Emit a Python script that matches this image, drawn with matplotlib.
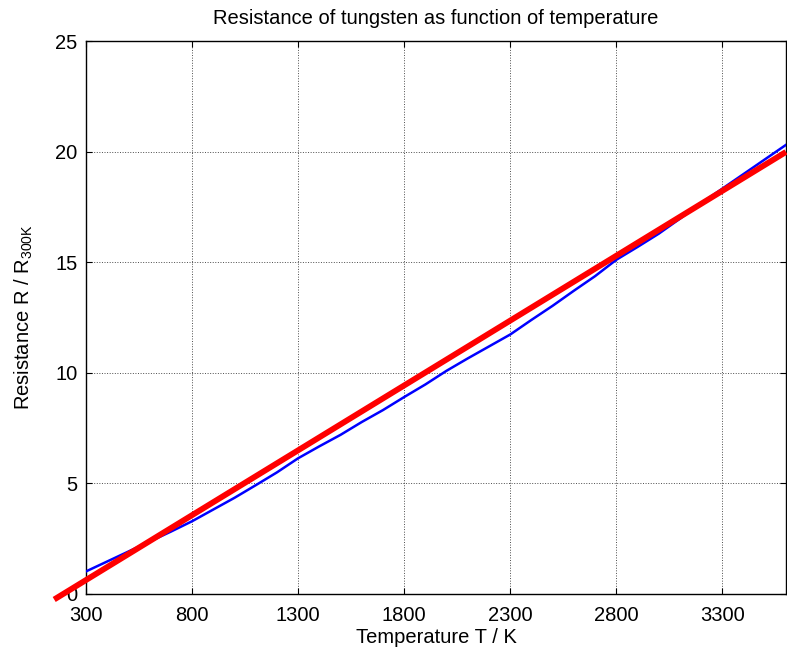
import numpy as np
import matplotlib
matplotlib.use('Agg')
import matplotlib.pyplot as plt

plt.rcParams['font.family'] = ['Liberation Sans', 'DejaVu Sans']
plt.rcParams['mathtext.fontset'] = 'custom'
plt.rcParams['mathtext.rm'] = 'Liberation Sans'

# measured resistance ratio of tungsten
T = [300, 400, 500, 600, 700, 800, 900, 1000, 1100, 1200, 1300, 1400, 1500,
     1600, 1700, 1800, 1900, 2000, 2100, 2200, 2300, 2400, 2500, 2600, 2700,
     2800, 2900, 3000, 3100, 3200, 3300, 3400, 3500, 3600]
R = [1.00, 1.45, 1.90, 2.35, 2.80, 3.27, 3.80, 4.33, 4.90, 5.48, 6.12, 6.66,
     7.18, 7.76, 8.30, 8.89, 9.46, 10.08, 10.64, 11.18, 11.72, 12.38, 13.02,
     13.70, 14.36, 15.10, 15.68, 16.28, 16.96, 17.66, 18.32, 18.98, 19.64, 20.30]

# linear fit, end points
T_fit = [150, 3600]
R_fit = [-0.27, 19.98]

xticks = [300, 800, 1300, 1800, 2300, 2800, 3300]
yticks = [0, 5, 10, 15, 20, 25]

fig = plt.figure(figsize=(7.87, 6.53), dpi=100)
ax = fig.add_axes([0.1093, 0.0911, 0.8894, 0.8461])

ax.plot(T, R, color='b', lw=1.8, zorder=3)
ax.plot(T_fit, R_fit, color='r', lw=4.2, zorder=4, clip_on=False, solid_capstyle='butt')

ax.set_xlim(300, 3600)
ax.set_ylim(0, 25)
ax.set_xticks(xticks)
ax.set_yticks(yticks)
ax.grid(True, color='k', linestyle=':', linewidth=0.7, alpha=0.7)
ax.tick_params(direction='in', top=True, right=True, length=4, labelsize=14.5)
ax.tick_params(axis='x', pad=9)
ax.tick_params(axis='y', pad=6)
for s in ax.spines.values():
    s.set_linewidth(1.0)

ax.set_title('Resistance of tungsten as function of temperature', fontsize=14.5, pad=12)
ax.set_xlabel('Temperature T / K', fontsize=14.5, labelpad=2)
ax.set_ylabel(r'Resistance R / R$_{\mathregular{300K}}$', fontsize=14.5, labelpad=15)

fig.savefig('out.png', dpi=100)
